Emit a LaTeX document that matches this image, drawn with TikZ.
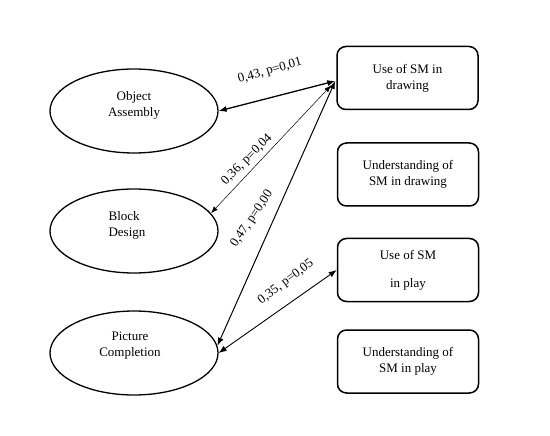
\documentclass[tikz,border=0pt]{standalone}
\usepackage{fontspec}
\setmainfont{Liberation Serif}
\usetikzlibrary{shapes.geometric,arrows.meta,calc}
\begin{document}
\begin{tikzpicture}[x=1bp,y=-1bp,
  every node/.style={font=\fontsize{13bp}{16bp}\selectfont},
  oval/.style={draw,ellipse,line width=1.3bp,minimum width=168bp,minimum height=84bp,inner sep=0},
  sbox/.style={draw,rounded corners=9bp,line width=1.5bp,minimum width=141bp,minimum height=63bp,inner sep=0,align=center},
  txt/.style={align=center,inner sep=0},
  lab/.style={inner sep=0},
  conn/.style={{Latex[length=8bp,width=6bp]}-{Latex[length=8bp,width=6bp]}},
]
\useasboundingbox (0,0) rectangle (550,436);
% ellipses
\node[oval] (oa) at (134,111) {};
\node[txt] (oat) at (134,105) {Object\\Assembly};
\node[oval] (bd) at (134,231) {};
\node[txt,align=left] (bdt) at (127,225) {Block\\Design};
\node[oval] (pc) at (134,353) {};
\node[txt] (pct) at (130,346) {Picture\\Completion};
% boxes
\node[sbox] (b1) at (407.5,78) {Use of SM in\\drawing};
\node[sbox] (b2) at (408,174.5) {Understanding of\\SM in drawing};
\node[sbox] (b3) at (408,270) {Use of SM\\[12bp]in play};
\node[sbox] (b4) at (408,361.5) {Understanding of\\SM in play};
\coordinate (hub) at ($(b1.west)+(-1,3)$);
% connectors
\draw[conn,line width=1.3bp] (oa.east) -- (hub);
\draw[{Latex[length=7bp,width=5bp]}-{Latex[length=7bp,width=5bp]},line width=0.5bp,shorten >=6bp] (bd.13) -- (hub);
\draw[conn,line width=1bp] (pc.5) -- (hub);
\draw[conn,line width=0.9bp] (pc.0) -- (b3.west);
% labels
\node[lab,rotate=16] (l1) at (270,71) {0,43, p=0,01};
\node[lab,rotate=45] (l2) at (247,160) {0,36, p=0,04};
\node[lab,rotate=56] (l3) at (252,219) {0,47, p=0,00};
\node[lab,rotate=37] (l4) at (286,282) {0,35, p=0,05};
\end{tikzpicture}
\end{document}
